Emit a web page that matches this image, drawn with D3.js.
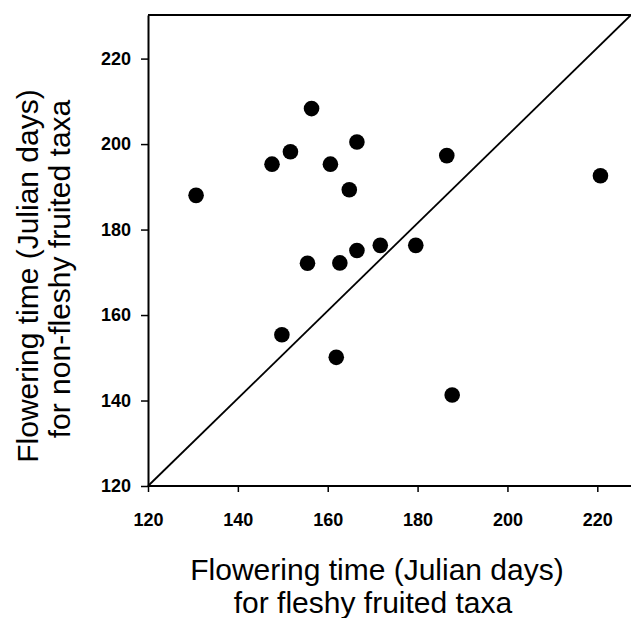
<!DOCTYPE html>
<html>
<head>
<meta charset="utf-8">
<script src="https://cdn.jsdelivr.net/npm/d3@7"></script>
<style>
  body { margin: 0; background: #fff; }
  svg { display: block; }
  .tick text { font-family: "Liberation Sans", Arial, sans-serif; font-weight: bold; font-size: 18px; fill: #000; }
  .title { font-family: "Liberation Sans", Arial, sans-serif; font-size: 30px; fill: #000; }
</style>
</head>
<body>
<div id="chart"></div>
<script>
// flowering time of fleshy fruited taxa (x) vs non-fleshy fruited taxa (y)
var fleshy    = [130.7, 147.6, 151.7, 156.4, 160.6, 166.5, 164.8, 155.5, 162.7, 166.5, 171.7, 179.6, 149.8, 161.9, 187.7, 186.5, 220.7];
var nonFleshy = [188.0, 195.3, 198.2, 208.3, 195.3, 200.5, 189.3, 172.1, 172.2, 175.1, 176.3, 176.3, 155.4, 150.1, 141.3, 197.3, 192.6];
var xTicks = [120, 140, 160, 180, 200, 220];
var yTicks = [120, 140, 160, 180, 200, 220];

var data = fleshy.map(function(d, i){ return {x: d, y: nonFleshy[i]}; });

var W = 631, H = 618;
var margin = {top: 15, left: 148, bottom: 132, right: 0};

var svg = d3.select("#chart").append("svg")
    .attr("width", W)
    .attr("height", H);

var x = d3.scaleLinear().domain([120, 227.5]).range([margin.left, 631]);
var y = d3.scaleLinear().domain([120, 230.2]).range([H - margin.bottom, margin.top]);

// top of the frame, right side runs off the picture
svg.append("line")
    .attr("x1", x(120)).attr("x2", W)
    .attr("y1", y.range()[1]).attr("y2", y.range()[1])
    .attr("stroke", "#000").attr("stroke-width", 2);

svg.append("g")
    .attr("class", "axis x")
    .attr("transform", "translate(0," + y(120) + ")")
    .call(d3.axisBottom(x).tickValues(xTicks).tickSizeInner(6).tickSizeOuter(0).tickPadding(21))
    .call(function(g){
        g.select(".domain").attr("stroke-width", 2).attr("d", "M" + x(120) + ",0H" + W);
        g.selectAll(".tick line").attr("stroke-width", 1.5);
    });

svg.append("g")
    .attr("class", "axis y")
    .attr("transform", "translate(" + x(120) + ",0)")
    .call(d3.axisLeft(y).tickValues(yTicks).tickSizeInner(7).tickSizeOuter(0).tickPadding(10))
    .call(function(g){
        g.select(".domain").attr("stroke-width", 2);
        g.selectAll(".tick line").attr("stroke-width", 1.5);
    });

// 1:1 line corner to corner
svg.append("line")
    .attr("x1", x(x.domain()[0])).attr("y1", y(y.domain()[0]))
    .attr("x2", x(x.domain()[1])).attr("y2", y(y.domain()[1]))
    .attr("stroke", "#000").attr("stroke-width", 1.8);

svg.selectAll(".dot")
    .data(data)
    .enter().append("circle")
    .attr("class", "dot")
    .attr("cx", function(d){ return x(d.x); })
    .attr("cy", function(d){ return y(d.y); })
    .attr("r", 7.8)
    .attr("fill", "#000");

// axis titles
var xt = svg.append("text").attr("class", "title").attr("text-anchor", "middle");
xt.append("tspan").attr("x", 377).attr("y", 580).text("Flowering time (Julian days)");
xt.append("tspan").attr("x", 373).attr("y", 613).text("for fleshy fruited taxa");

var yt = svg.append("text").attr("class", "title").attr("text-anchor", "middle")
    .attr("transform", "translate(0,278) rotate(-90)");
yt.append("tspan").attr("x", 2).attr("y", 38).text("Flowering time (Julian days)");
yt.append("tspan").attr("x", 9).attr("y", 70).text("for non-fleshy fruited taxa");
</script>
</body>
</html>
